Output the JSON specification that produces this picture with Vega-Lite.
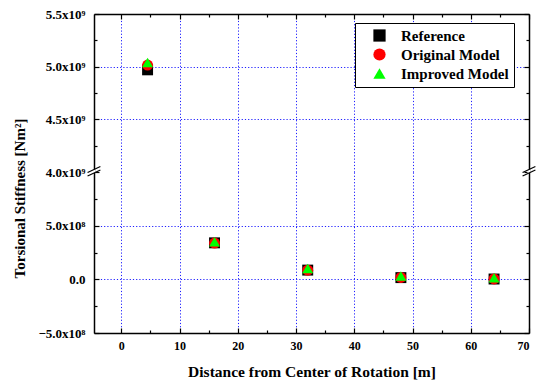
{
  "$schema": "https://vega.github.io/schema/vega-lite/v6.json",
  "background": "white",
  "padding": {"left": 12, "top": 8, "right": 5, "bottom": 5},
  "spacing": 0,
  "bounds": "flush",
  "config": {
    "view": {"stroke": null},
    "font": "Liberation Serif",
    "axis": {
      "labelFont": "Liberation Serif",
      "labelFontWeight": "bold",
      "labelFontSize": 13,
      "labelColor": "black",
      "titleFont": "Liberation Serif",
      "titleFontWeight": "bold",
      "titleColor": "black",
      "domainColor": "black",
      "domainWidth": 1.5,
      "tickColor": "black",
      "tickWidth": 1.2,
      "gridColor": "#2020ff",
      "gridDash": [1.2, 2],
      "gridWidth": 1,
      "labelPadding": 14
    },
    "legend": {
      "labelFont": "Liberation Serif",
      "labelFontWeight": "bold",
      "labelFontSize": 15,
      "labelColor": "black",
      "symbolSize": 150,
      "strokeColor": "black",
      "fillColor": "white",
      "padding": 5,
      "rowPadding": 3,
      "symbolOffset": 12,
      "labelOffset": 14,
      "symbolStrokeWidth": 0
    }
  },
  "datasets": {
    "pts": [
      {"distance": 4.5, "stiffness": 4970000000, "model": "Reference"},
      {"distance": 16, "stiffness": 340000000, "model": "Reference"},
      {"distance": 32, "stiffness": 86000000, "model": "Reference"},
      {"distance": 48, "stiffness": 16000000, "model": "Reference"},
      {"distance": 64, "stiffness": 3000000, "model": "Reference"},
      {"distance": 4.5, "stiffness": 5015000000, "model": "Original Model"},
      {"distance": 16, "stiffness": 338000000, "model": "Original Model"},
      {"distance": 32, "stiffness": 85000000, "model": "Original Model"},
      {"distance": 48, "stiffness": 18000000, "model": "Original Model"},
      {"distance": 64, "stiffness": 4000000, "model": "Original Model"},
      {"distance": 4.5, "stiffness": 5040000000, "model": "Improved Model"},
      {"distance": 16, "stiffness": 350000000, "model": "Improved Model"},
      {"distance": 32, "stiffness": 100000000, "model": "Improved Model"},
      {"distance": 48, "stiffness": 32000000, "model": "Improved Model"},
      {"distance": 64, "stiffness": 14000000, "model": "Improved Model"}
    ],
    "brk": [
      {"kind": "gap", "x1": -4.7, "x2": -4.7, "y1": 991000000, "y2": 1024000000},
      {"kind": "gap", "x1": 70, "x2": 70, "y1": 991000000, "y2": 1024000000},
      {"kind": "line", "x1": -5.8, "x2": -3.6, "y1": 963000000, "y2": 1019000000},
      {"kind": "line", "x1": -5.8, "x2": -3.6, "y1": 996000000, "y2": 1051000000},
      {"kind": "line", "x1": 68.9, "x2": 71.1, "y1": 963000000, "y2": 1019000000},
      {"kind": "line", "x1": 68.9, "x2": 71.1, "y1": 996000000, "y2": 1051000000}
    ]
  },
  "resolve": {"legend": {"color": "independent", "shape": "independent"}},
  "vconcat": [
    {
      "width": 435,
      "height": 158,
      "data": {"name": "pts"},
      "transform": [{"filter": "datum.stiffness >= 4000000000"}],
      "layer": [
        {
          "mark": {"type": "point", "filled": true, "size": 120, "opacity": 1},
          "encoding": {
            "x": {
              "field": "distance", "type": "quantitative",
              "scale": {"domain": [-4.7, 70], "nice": false, "zero": false},
              "axis": {
                "orient": "top", "title": null, "labels": false,
                "values": [0, 5, 10, 15, 20, 25, 30, 35, 40, 45, 50, 55, 60, 65, 70],
                "tickSize": {"condition": {"test": "datum.value % 10 == 0", "value": -5}, "value": -3},
                "gridOpacity": {"condition": {"test": "datum.value % 10 == 0 && datum.value < 70", "value": 1}, "value": 0}
              }
            },
            "y": {
              "field": "stiffness", "type": "quantitative",
              "scale": {"domain": [4000000000, 5500000000], "nice": false, "zero": false},
              "axis": {
                "title": null,
                "values": [4000000000, 4250000000, 4500000000, 4750000000, 5000000000, 5250000000, 5500000000],
                "labelExpr": "datum.value % 500000000 == 0 ? format(datum.value / 1000000000, '.1f') + 'x10⁹' : ''",
                "tickSize": {"condition": {"test": "datum.value % 500000000 == 0", "value": -5}, "value": -3},
                "gridOpacity": {"condition": {"test": "datum.value % 500000000 == 0 && datum.value < 5500000000 && datum.value > 4000000000", "value": 1}, "value": 0}
              }
            },
            "color": {
              "field": "model", "type": "nominal",
              "scale": {"domain": ["Reference", "Original Model", "Improved Model"], "range": ["#000000", "#ff0000", "#00ff00"]},
              "legend": {"title": null, "orient": "none", "legendX": 261, "legendY": 9}
            },
            "shape": {
              "field": "model", "type": "nominal",
              "scale": {"domain": ["Reference", "Original Model", "Improved Model"], "range": ["square", "circle", "triangle-up"]},
              "legend": {"title": null, "orient": "none", "legendX": 261, "legendY": 9}
            }
          }
        },
        {
          "mark": {"type": "point", "opacity": 0},
          "encoding": {
            "x": {"field": "distance", "type": "quantitative", "axis": null},
            "y": {
              "field": "stiffness", "type": "quantitative",
              "axis": {
                "orient": "right", "title": null, "labels": false, "grid": false,
                "values": [4000000000, 4250000000, 4500000000, 4750000000, 5000000000, 5250000000, 5500000000],
                "tickSize": {"condition": {"test": "datum.value % 500000000 == 0", "value": -5}, "value": -3}
              }
            }
          }
        }
      ],
      "resolve": {"axis": {"x": "independent", "y": "independent"}}
    },
    {
      "width": 435,
      "height": 161,
      "layer": [
        {
          "data": {"name": "pts"},
          "transform": [{"filter": "datum.stiffness < 4000000000"}],
          "mark": {"type": "point", "filled": true, "size": 120, "opacity": 1},
          "encoding": {
            "x": {
              "field": "distance", "type": "quantitative",
              "scale": {"domain": [-4.7, 70], "nice": false, "zero": false},
              "axis": {
                "orient": "bottom",
                "title": "Distance from Center of Rotation [m]",
                "titleFontSize": 15.5,
                "titlePadding": 13,
                "labelFontSize": 12,
                "labelPadding": 12,
                "values": [0, 5, 10, 15, 20, 25, 30, 35, 40, 45, 50, 55, 60, 65, 70],
                "labelExpr": "datum.value % 10 == 0 ? datum.label : ''",
                "tickSize": {"condition": {"test": "datum.value % 10 == 0", "value": -5}, "value": -3},
                "gridOpacity": {"condition": {"test": "datum.value % 10 == 0 && datum.value < 70", "value": 1}, "value": 0}
              }
            },
            "y": {
              "field": "stiffness", "type": "quantitative",
              "scale": {"domain": [-500000000, 1000000000], "nice": false, "zero": false},
              "axis": {
                "title": "Torsional Stiffness [Nm²]",
                "titleFontSize": 15,
                "titleBaseline": "middle",
                "titleX": -74.5,
                "titleY": 26,
                "values": [-500000000, -250000000, 0, 250000000, 500000000, 750000000],
                "labelExpr": "datum.value % 500000000 != 0 ? '' : (datum.value == 0 ? '0.0' : format(datum.value / 100000000, '.1f') + 'x10⁸')",
                "tickSize": {"condition": {"test": "datum.value % 500000000 == 0", "value": -5}, "value": -3},
                "gridOpacity": {"condition": {"test": "datum.value % 500000000 == 0 && datum.value > -500000000", "value": 1}, "value": 0}
              }
            },
            "color": {
              "field": "model", "type": "nominal",
              "scale": {"domain": ["Reference", "Original Model", "Improved Model"], "range": ["#000000", "#ff0000", "#00ff00"]},
              "legend": null
            },
            "shape": {
              "field": "model", "type": "nominal",
              "scale": {"domain": ["Reference", "Original Model", "Improved Model"], "range": ["square", "circle", "triangle-up"]},
              "legend": null
            }
          }
        },
        {
          "data": {"name": "brk"},
          "transform": [{"filter": "datum.kind == 'gap'"}],
          "mark": {"type": "rule", "color": "white", "strokeWidth": 3},
          "encoding": {
            "x": {"field": "x1", "type": "quantitative", "axis": null},
            "x2": {"field": "x2"},
            "y": {"field": "y1", "type": "quantitative", "axis": null},
            "y2": {"field": "y2"}
          }
        },
        {
          "data": {"name": "brk"},
          "transform": [{"filter": "datum.kind == 'line'"}],
          "mark": {"type": "rule", "color": "black", "strokeWidth": 1.2},
          "encoding": {
            "x": {"field": "x1", "type": "quantitative", "axis": null},
            "x2": {"field": "x2"},
            "y": {
              "field": "y1", "type": "quantitative",
              "axis": {
                "orient": "right", "title": null, "labels": false, "grid": false,
                "values": [-500000000, -250000000, 0, 250000000, 500000000, 750000000],
                "tickSize": {"condition": {"test": "datum.value % 500000000 == 0", "value": -5}, "value": -3}
              }
            },
            "y2": {"field": "y2"}
          }
        }
      ],
      "resolve": {"axis": {"x": "independent", "y": "independent"}}
    }
  ]
}
